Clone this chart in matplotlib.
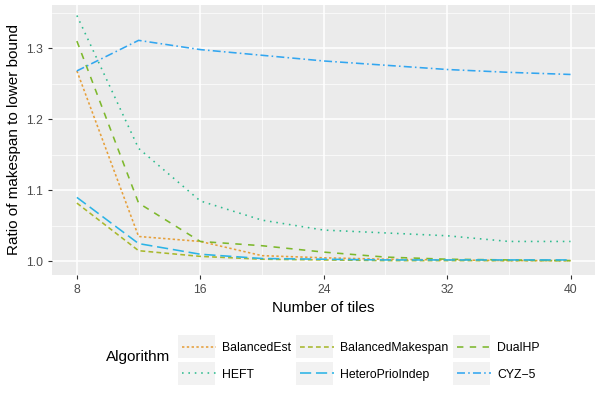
import matplotlib
matplotlib.use("Agg")
import matplotlib.pyplot as plt
from matplotlib.patches import Rectangle

plt.rcParams['font.family'] = ['Liberation Sans', 'DejaVu Sans']

tiles = [8, 12, 16, 20, 24, 28, 32, 36, 40]

balanced_est = [1.268, 1.035, 1.028, 1.008, 1.005, 1.003, 1.002, 1.001, 1.001]
balanced_makespan = [1.082, 1.015, 1.007, 1.003, 1.002, 1.001, 1.001, 1.001, 1.001]
dual_hp = [1.310, 1.082, 1.028, 1.022, 1.013, 1.006, 1.003, 1.002, 1.001]
heft = [1.346, 1.159, 1.085, 1.058, 1.044, 1.040, 1.036, 1.028, 1.028]
hetero_prio = [1.090, 1.025, 1.010, 1.004, 1.003, 1.002, 1.002, 1.002, 1.002]
cyz5 = [1.268, 1.311, 1.298, 1.290, 1.282, 1.276, 1.270, 1.266, 1.263]

names = ["BalancedEst", "BalancedMakespan", "DualHP",
         "HEFT", "HeteroPrioIndep", "CYZ\u22125"]
series = [balanced_est, balanced_makespan, dual_hp, heft, hetero_prio, cyz5]
colors = ["#E69F3A", "#A8B82C", "#7DB82C", "#2DBB8E", "#2BB4E6", "#32A6F0"]
dashes = [(1.5, 1.5), (3, 2), (4, 4), (1, 3), (7, 3), (5, 2, 1, 2)]

fig = plt.figure(figsize=(6, 4.03), dpi=100)
ax = fig.add_axes([0.087, 0.318, 0.905, 0.670])
ax.set_facecolor("#EBEBEB")

lines = []
for name, ys, c, d in zip(names, series, colors, dashes):
    ln, = ax.plot(tiles, ys, color=c, lw=1.15, dashes=d, label=name)
    lines.append(ln)

ax.set_xlim(6.4, 41.6)
ax.set_ylim(0.981, 1.361)
ax.set_xticks([8, 16, 24, 32, 40])
ax.set_xticks([12, 20, 28, 36], minor=True)
ax.set_yticks([1.0, 1.1, 1.2, 1.3])
ax.set_yticks([1.05, 1.15, 1.25, 1.35], minor=True)
ax.set_yticklabels(["1.0", "1.1", "1.2", "1.3"])
ax.grid(which="major", color="white", lw=1.1)
ax.grid(which="minor", color="white", lw=0.5)
ax.set_axisbelow(True)
for s in ax.spines.values():
    s.set_visible(False)
ax.tick_params(which="major", length=3, color="#333333", labelcolor="#4D4D4D",
               labelsize=8.8, width=0.8)
ax.tick_params(which="minor", length=0)
ax.set_xlabel("Number of tiles", fontsize=11, labelpad=4)
ax.set_ylabel("Ratio of makespan to lower bound", fontsize=11, labelpad=4)

order = [0, 3, 1, 4, 2, 5]
leg = fig.legend([lines[i] for i in order], [names[i] for i in order],
                 ncol=3, loc="upper left", bbox_to_anchor=(182 / 600, 1 - 342 / 403),
                 borderpad=0, borderaxespad=0,
                 frameon=False, fontsize=8.8, handlelength=2.75,
                 columnspacing=0.7, labelspacing=1.2, handletextpad=0.55)
fig.text(0.177, 1 - 357 / 403, "Algorithm", fontsize=11, va="center")

# grey key backgrounds like ggplot legend keys
fig.canvas.draw()
for h in leg.legend_handles:
    bb = h.get_window_extent()
    yc = (bb.y0 + bb.y1) / 2
    rect = Rectangle(((bb.x0 - 4) / 600, (yc - 11.5) / 403), 37 / 600, 23 / 403,
                     transform=fig.transFigure, facecolor="#F2F2F2",
                     edgecolor="none", zorder=-1)
    fig.patches.append(rect)

fig.savefig("out.png", dpi=100)
